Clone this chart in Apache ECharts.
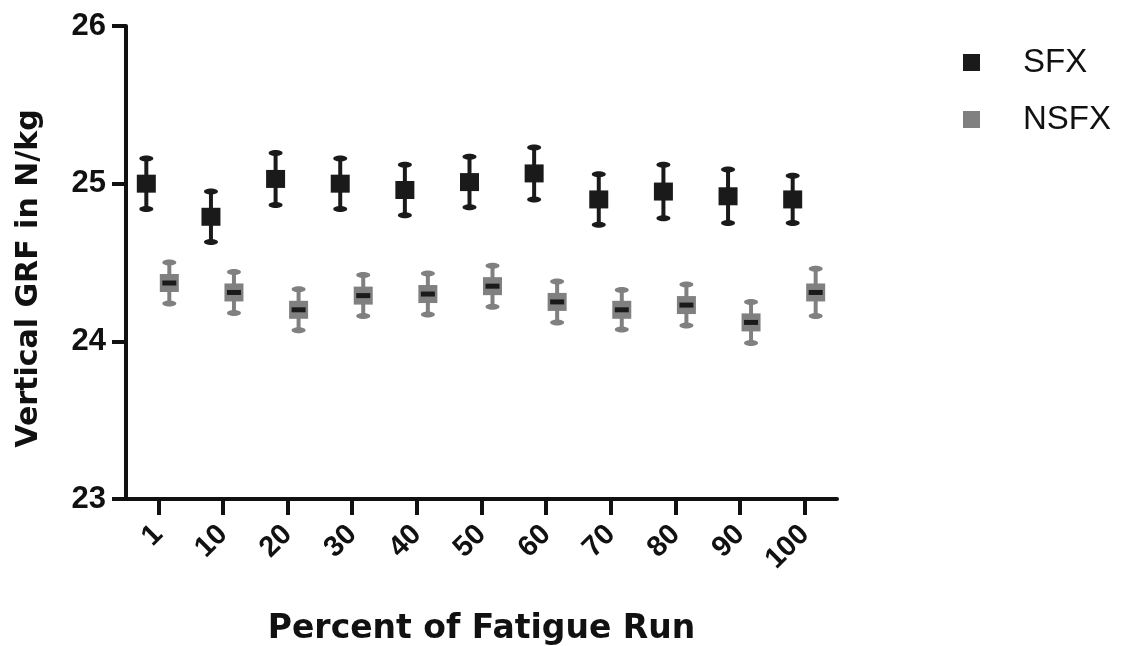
<!DOCTYPE html>
<html><head><meta charset="utf-8">
<script src="https://cdn.jsdelivr.net/npm/echarts@6/dist/echarts.min.js"></script>
<style>html,body{margin:0;padding:0;background:#fff}#c{width:1128px;height:646px}</style>
</head><body><div id="c"></div>
<script>
var categories = ['1','10','20','30','40','50','60','70','80','90','100'];
var sfxMean = [25.00, 24.79, 25.03, 25.00, 24.96, 25.01, 25.065, 24.90, 24.95, 24.92, 24.90];
var sfxErr  = [0.16, 0.16, 0.165, 0.16, 0.16, 0.16, 0.165, 0.16, 0.17, 0.17, 0.15];
var nsfxMean = [24.37, 24.31, 24.20, 24.29, 24.30, 24.35, 24.25, 24.20, 24.23, 24.12, 24.31];
var nsfxErr  = [0.13, 0.13, 0.13, 0.13, 0.13, 0.13, 0.13, 0.125, 0.13, 0.13, 0.15];
var yTicks = [23, 24, 25, 26];

function buildData(mean, err){
  return mean.map(function(m,i){ return [i, m, m-err[i], m+err[i]]; });
}
function makeRender(offset, color, midBar){
  return function(params, api){
    var idx = api.value(0);
    var c = api.coord([idx, api.value(1)]);
    var lo = api.coord([idx, api.value(2)]);
    var hi = api.coord([idx, api.value(3)]);
    var x = c[0] + offset;
    var children = [
      {type:'line', shape:{x1:x,y1:hi[1],x2:x,y2:lo[1]}, style:{stroke:color,lineWidth:4}},
      {type:'ellipse', shape:{cx:x,cy:hi[1],rx:7,ry:3}, style:{fill:color}},
      {type:'ellipse', shape:{cx:x,cy:lo[1],rx:7,ry:3}, style:{fill:color}},
      {type:'rect', shape:{x:x-9.5,y:c[1]-9,width:19,height:18}, style:{fill:color}}
    ];
    if(midBar){
      children.push({type:'rect', shape:{x:x-7,y:c[1]-2.5,width:14,height:5}, style:{fill:'#1a1a1a'}});
    }
    return {type:'group', children:children};
  };
}
var chart = echarts.init(document.getElementById('c'));
var fontFam = '"Liberation Sans", Arial, Helvetica, sans-serif';
var titleFam = '"DejaVu Sans", "Liberation Sans", sans-serif';
chart.setOption({
  animation:false,
  backgroundColor:'#fff',
  grid:{left:126, right:291, top:26, bottom:147, containLabel:false, outerBoundsMode:'none'},
  legend:{
    orient:'vertical', left:958, top:41, itemWidth:17, itemHeight:17, itemGap:24,
    icon:'rect',
    textStyle:{fontSize:33, lineHeight:32, color:'#111', fontFamily:fontFam, padding:[0,0,0,38]},
    data:['SFX','NSFX']
  },
  xAxis:{
    type:'category', data:categories, boundaryGap:true,
    name:'Percent of Fatigue Run', nameLocation:'middle', nameGap:114,
    nameTextStyle:{fontSize:33, fontWeight:'bold', color:'#111', fontFamily:titleFam},
    axisLine:{lineStyle:{color:'#111', width:4}},
    axisTick:{show:true, alignWithLabel:true, length:16, lineStyle:{color:'#111', width:4}},
    axisLabel:{rotate:45, fontSize:29, fontWeight:'bold', color:'#111', margin:31, fontFamily:fontFam, interval:0}
  },
  yAxis:{
    type:'value', min:yTicks[0], max:yTicks[yTicks.length-1], interval:1,
    name:'Vertical GRF in N/kg', nameLocation:'middle', nameGap:82,
    nameTextStyle:{fontSize:30, fontWeight:'bold', color:'#111', fontFamily:titleFam, padding:[0,32,0,0]},
    splitLine:{show:false},
    axisLine:{show:true, lineStyle:{color:'#111', width:4}},
    axisTick:{show:true, length:14, lineStyle:{color:'#111', width:4}},
    axisLabel:{fontSize:31, fontWeight:'bold', color:'#111', margin:20, fontFamily:fontFam}
  },
  series:[
    {name:'SFX', type:'custom', itemStyle:{color:'#1a1a1a'}, renderItem:makeRender(-12,'#1a1a1a',false),
     encode:{x:0,y:[1,2,3]}, data:buildData(sfxMean,sfxErr)},
    {name:'NSFX', type:'custom', itemStyle:{color:'#808080'}, renderItem:makeRender(11,'#808080',true),
     encode:{x:0,y:[1,2,3]}, data:buildData(nsfxMean,nsfxErr)}
  ]
});
</script></body></html>
